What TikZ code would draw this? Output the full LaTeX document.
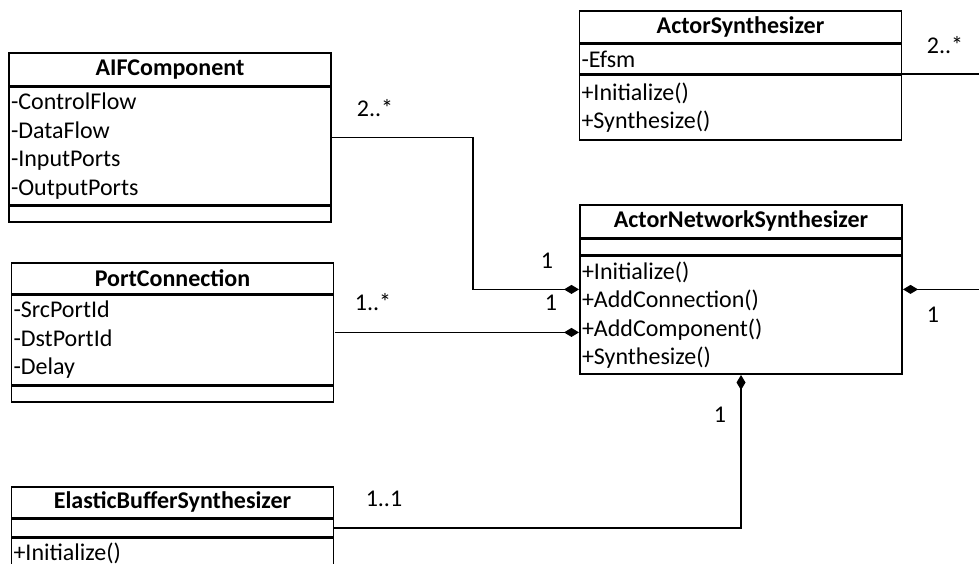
\documentclass[tikz,border=0pt]{standalone}
\usepackage{fontspec}
\setmainfont{Carlito}
\usetikzlibrary{
  arrows.meta,
  positioning,
  fit
}

\newcommand{\umlfont}{\fontsize{24}{28.5}\selectfont}

\tikzset{
  classhead/.style={draw, line width=1.6pt, minimum width=322pt, inner sep=0pt, anchor=north, font=\umlfont\bfseries},
  classpart/.style={draw, line width=1.6pt, minimum width=322pt, text width=318pt, inner xsep=2pt, inner ysep=0pt, align=left},
  mult/.style={inner sep=0pt},
  comp/.style={line width=1.6pt, -{Diamond[length=15pt, width=9pt]}}
}

\begin{document}
\begin{tikzpicture}[x=1pt, y=-1pt, font=\umlfont]
\useasboundingbox (0,0) rectangle (979,563);
\clip (0,0) rectangle (979,563);

% -------------------------
% Classes
% -------------------------
% AIFComponent
\node[classhead, minimum height=33pt] (aif) at (170,52) {AIFComponent};
\node[classpart, minimum height=117pt, below=0pt of aif] (aifattr) {-ControlFlow\\-DataFlow\\-InputPorts\\-OutputPorts};
\node[classpart, minimum height=16pt, below=0pt of aifattr] (aifops) {};
\node[fit=(aif)(aifops), inner sep=0pt] (aifbox) {};

% PortConnection
\node[classhead, minimum height=31pt] (pc) at (172.5,262) {PortConnection};
\node[classpart, minimum height=89pt, below=0pt of pc] (pcattr) {-SrcPortId\\-DstPortId\\-Delay};
\node[classpart, minimum height=16pt, below=0pt of pcattr] (pcops) {};
\node[fit=(pc)(pcops), inner sep=0pt] (pcbox) {};

% ActorSynthesizer
\node[classhead, minimum height=32pt] (as) at (740.5,10) {ActorSynthesizer};
\node[classpart, minimum height=29pt, below=0pt of as] (asattr) {-Efsm};
\node[classpart, minimum height=65pt, below=0pt of asattr] (asops) {+Initialize()\\+Synthesize()};

% ActorNetworkSynthesizer
\node[classhead, minimum height=33pt] (ans) at (741,204) {ActorNetworkSynthesizer};
\node[classpart, minimum height=15pt, below=0pt of ans] (ansattr) {};
\node[classpart, minimum height=118pt, below=0pt of ansattr] (ansops) {+Initialize()\\+AddConnection()\\+AddComponent()\\+Synthesize()};
\node[fit=(ans)(ansops), inner sep=0pt] (ansbox) {};

% ElasticBufferSynthesizer
\node[classhead, minimum height=31pt] (ebs) at (172.5,486) {ElasticBufferSynthesizer};
\node[classpart, minimum height=17pt, below=0pt of ebs] (ebsattr) {};
\node[classpart, minimum height=30pt, below=0pt of ebsattr] (ebsops) {+Initialize()};

% -------------------------
% Compositions
% -------------------------
\coordinate (bendA) at (473,0);
\coordinate (offR)  at (995,0);

\draw[comp] (aifbox.east) -- (aifbox.east -| bendA) |- (ansbox.west);
\draw[comp] (pcbox.east) -- (pcbox.east -| ansbox.west);
\draw[comp] (ebsattr.east) -| (ansbox.south);
\draw[comp] (asattr.south east) -- (asattr.south east -| offR) -- (ansbox.east -| offR) -- (ansbox.east);

% Multiplicities
\node[mult] (m1) at (375,108) {2..*};
\node[mult] (m2) at (547,261) {1};
\node[mult] (m3) at (373,302) {1..*};
\node[mult] (m4) at (551,303) {1};
\node[mult] (m5) at (945,45)  {2..*};
\node[mult] (m6) at (933,315) {1};
\node[mult] (m7) at (720,415) {1};
\node[mult] (m8) at (384,499) {1..1};

\end{tikzpicture}
\end{document}
